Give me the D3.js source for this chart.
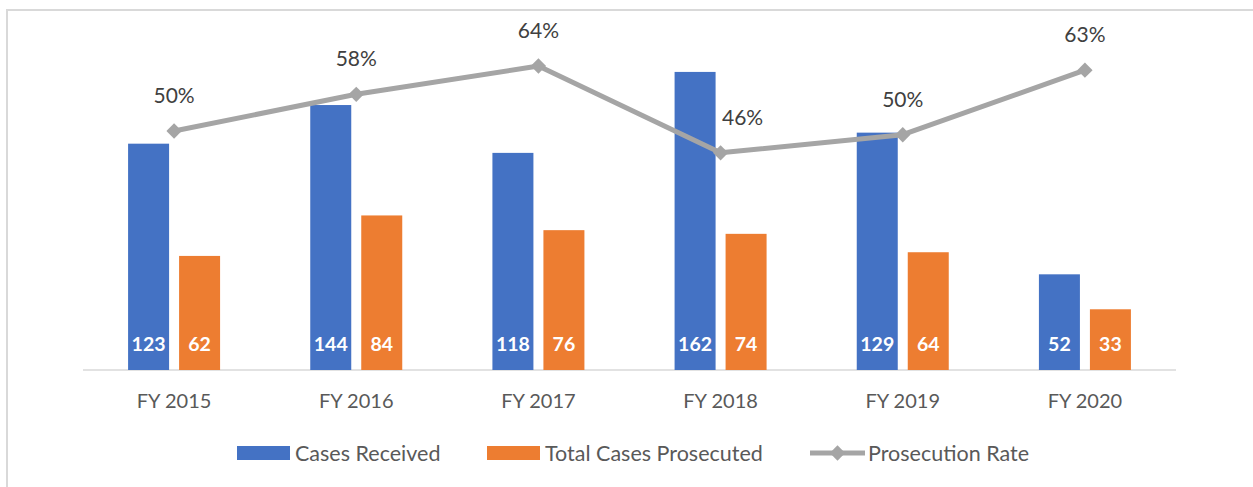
<!DOCTYPE html>
<html>
<head>
<meta charset="utf-8">
<script src="https://cdn.jsdelivr.net/npm/d3@7"></script>
<style>
  body { margin: 0; background: #fff; }
  svg text { font-family: Lato, "Open Sans", sans-serif; }
</style>
</head>
<body>
<svg id="chart" width="1253" height="487"></svg>
<script>
// data
const years = ['FY 2015', 'FY 2016', 'FY 2017', 'FY 2018', 'FY 2019', 'FY 2020'];
const casesReceived = [123, 144, 118, 162, 129, 52];
const casesProsecuted = [62, 84, 76, 74, 64, 33];
const prosecutionRate = [0.504, 0.583, 0.644, 0.457, 0.496, 0.635];
const rateLabels = ['50%', '58%', '64%', '46%', '50%', '63%'];

const svg = d3.select('#chart');
const blue = '#4472C4', orange = '#ED7D31', gray = '#A5A5A5';

// frame (only top and left edges visible in the picture)
svg.append('path')
    .attr('d', 'M7,487 L7,10 L1253,10')
    .attr('fill', 'none')
    .attr('stroke', '#d9d9d9')
    .attr('stroke-width', 2);

const x = d3.scaleBand().domain(years).range([83, 1176]);
const y = d3.scaleLinear().domain([0, 200]).range([370, 2]);
const yRate = d3.scaleLinear().domain([0, 0.7]).range([365, 40]);

const barW = 41, gap = 10;
const cx = d => x(d) + x.bandwidth() / 2;

// baseline
svg.append('line')
    .attr('x1', 83).attr('x2', 1176)
    .attr('y1', y(0)).attr('y2', y(0))
    .attr('stroke', '#d9d9d9').attr('stroke-width', 1.5);

const series = [
    { values: casesReceived, color: blue, off: -gap / 2 - barW },
    { values: casesProsecuted, color: orange, off: gap / 2 }
];

series.forEach(s => {
    const g = svg.append('g');
    g.selectAll('rect')
        .data(years)
        .join('rect')
        .attr('x', (d) => cx(d) + s.off)
        .attr('width', barW)
        .attr('y', (d, i) => y(s.values[i]))
        .attr('height', (d, i) => y(0) - y(s.values[i]))
        .attr('fill', s.color);
    g.selectAll('text')
        .data(years)
        .join('text')
        .attr('x', d => cx(d) + s.off + barW / 2)
        .attr('y', 351)
        .attr('text-anchor', 'middle')
        .attr('fill', '#fff')
        .attr('font-weight', 'bold')
        .attr('font-size', 19.5)
        .text((d, i) => s.values[i]);
});

// category labels
svg.append('g').selectAll('text')
    .data(years)
    .join('text')
    .attr('x', d => cx(d))
    .attr('y', 408)
    .attr('text-anchor', 'middle')
    .attr('fill', '#595959')
    .attr('font-size', 20)
    .text(d => d);

// rate line
const line = d3.line()
    .x((d, i) => cx(years[i]))
    .y(d => yRate(d));

svg.append('path')
    .datum(prosecutionRate)
    .attr('d', line)
    .attr('fill', 'none')
    .attr('stroke', gray)
    .attr('stroke-width', 5)
    .attr('stroke-linejoin', 'round');

const diamond = d3.symbol().type(d3.symbolDiamond2).size(150);
svg.append('g').selectAll('path')
    .data(prosecutionRate)
    .join('path')
    .attr('transform', (d, i) => `translate(${cx(years[i])},${yRate(d)})`)
    .attr('d', diamond)
    .attr('fill', gray);

// the dip label (FY 2018) sits right of its marker so it clears the line
svg.append('g').selectAll('text')
    .data(prosecutionRate)
    .join('text')
    .attr('x', (d, i) => cx(years[i]) + (i === 3 ? 22 : 0))
    .attr('y', d => yRate(d) - 28)
    .attr('text-anchor', 'middle')
    .attr('fill', '#404040')
    .attr('font-size', 21)
    .text((d, i) => rateLabels[i]);

// legend
const legend = svg.append('g').attr('transform', 'translate(0,453)');
const items = [
    { label: 'Cases Received', type: 'rect', color: blue, x: 237 },
    { label: 'Total Cases Prosecuted', type: 'rect', color: orange, x: 487 },
    { label: 'Prosecution Rate', type: 'line', color: gray, x: 810 }
];
items.forEach(it => {
    if (it.type === 'rect') {
        legend.append('rect')
            .attr('x', it.x).attr('y', -7)
            .attr('width', 53).attr('height', 14)
            .attr('fill', it.color);
    } else {
        legend.append('line')
            .attr('x1', it.x).attr('x2', it.x + 55)
            .attr('y1', 0).attr('y2', 0)
            .attr('stroke', it.color).attr('stroke-width', 5);
        legend.append('path')
            .attr('transform', `translate(${it.x + 27.5},0)`)
            .attr('d', diamond)
            .attr('fill', it.color);
    }
    legend.append('text')
        .attr('x', it.x + 58)
        .attr('y', 7.5)
        .attr('fill', '#595959')
        .attr('font-size', 21.5)
        .text(it.label);
});
</script>
</body>
</html>
